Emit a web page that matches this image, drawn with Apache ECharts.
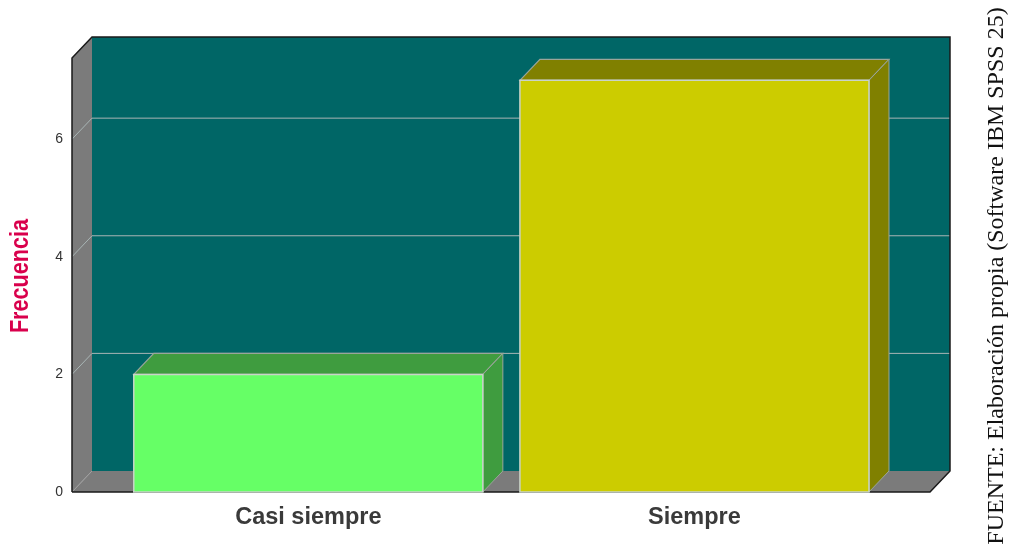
<!DOCTYPE html>
<html>
<head>
<meta charset="utf-8">
<script src="https://cdn.jsdelivr.net/npm/echarts@6/dist/echarts.min.js"></script>
<style>
html,body{margin:0;padding:0;background:#fff;}
#chart{width:1011px;height:547px;}
</style>
</head>
<body>
<div id="chart"></div>
<script>
const categories = ['Casi siempre', 'Siempre'];
const frecuencias = [2, 7];
const yTicks = [0, 2, 4, 6];
const yMax = 7.38;
const yTitle = 'Frecuencia';
const fuente = 'FUENTE: Elaboración propia (Software IBM SPSS 25)';

const faceColors = ['#66ff66', '#cccc00'];
const shadeColors = ['#3f9c3f', '#808000'];
const DX = 20, DY = -21;       // 3D depth offset
const BAR_W = 0.904;           // bar width in x units

const chart = echarts.init(document.getElementById('chart'), null, {renderer: 'canvas'});

function wallsItem(params, api) {
  const cs = params.coordSys;
  const x0 = cs.x, x1 = cs.x + cs.width, yb = cs.y + cs.height, yt = cs.y;
  const children = [];
  children.push({type: 'rect', shape: {x: x0 + DX, y: yt + DY, width: x1 - x0, height: yb - yt},
    style: {fill: '#006666', stroke: null}});
  children.push({type: 'polygon', shape: {points: [[x0, yt], [x0 + DX, yt + DY], [x0 + DX, yb + DY], [x0, yb]]},
    style: {fill: '#7b7b7b'}});
  children.push({type: 'polygon', shape: {points: [[x0, yb], [x0 + DX, yb + DY], [x1 + DX, yb + DY], [x1, yb]]},
    style: {fill: '#7b7b7b'}});
  yTicks.forEach(function (t) {
    if (t === 0) return;
    const y = api.coord([0, t])[1];
    children.push({type: 'polyline', shape: {points: [[x0, y], [x0 + DX, y + DY], [x1 + DX, y + DY]]},
      style: {stroke: '#a9b5b5', lineWidth: 1, fill: null}});
  });
  children.push({type: 'polyline', shape: {points: [[x0, yb], [x0 + DX, yb + DY]]},
    style: {stroke: '#a0a0a0', lineWidth: 1, fill: null}});
  children.push({type: 'polyline', shape: {points: [[x0, yb], [x0, yt], [x0 + DX, yt + DY], [x1 + DX, yt + DY], [x1 + DX, yb + DY], [x1, yb], [x0, yb]]},
    style: {stroke: '#1a1a1a', lineWidth: 1.5, fill: null}});
  return {type: 'group', children: children};
}

function barItem(params, api) {
  const i = api.value(0), v = api.value(1);
  const p0 = api.coord([i - BAR_W / 2, 0]);
  const p1 = api.coord([i + BAR_W / 2, v]);
  const xl = p0[0], xr = p1[0], yb = p0[1], yt = p1[1];
  return {type: 'group', children: [
    {type: 'polygon', shape: {points: [[xl, yt], [xl + DX, yt + DY], [xr + DX, yt + DY], [xr, yt]]},
      style: {fill: shadeColors[i], stroke: '#9aa59a', lineWidth: 1.2}},
    {type: 'polygon', shape: {points: [[xr, yt], [xr + DX, yt + DY], [xr + DX, yb + DY], [xr, yb]]},
      style: {fill: shadeColors[i], stroke: '#9aa59a', lineWidth: 1}},
    {type: 'rect', shape: {x: xl, y: yt, width: xr - xl, height: yb - yt},
      style: {fill: faceColors[i], stroke: '#c9d3c9', lineWidth: 1.5}}
  ]};
}

const option = {
  animation: false,
  backgroundColor: '#ffffff',
  grid: {left: 72, right: 81, top: 58, bottom: 55, containLabel: false, outerBoundsMode: 'none'},
  xAxis: {
    type: 'value', min: -0.612, max: 1.610,
    axisLine: {show: false}, axisTick: {show: false}, splitLine: {show: false},
    axisLabel: {
      customValues: [0, 1],
      formatter: function (v) { return categories[Math.round(v)] || ''; },
      fontFamily: 'Liberation Sans, Arial, sans-serif', fontWeight: 'bold', fontSize: 23.5,
      color: '#3a3a3a', margin: 14
    }
  },
  yAxis: {
    type: 'value', min: 0, max: yMax, interval: 2,
    axisLine: {show: false}, axisTick: {show: false}, splitLine: {show: false},
    axisLabel: {
      customValues: yTicks,
      fontFamily: 'Liberation Sans, Arial, sans-serif', fontSize: 14, color: '#333', margin: 9,
      padding: [9, 0, 0, 0]
    }
  },
  graphic: [{
    type: 'text', x: 21, y: 276, rotation: Math.PI / 2, scaleX: 0.865,
    style: {text: yTitle, fontFamily: 'Liberation Sans, Arial, sans-serif', fontWeight: 'bold', fontSize: 25,
      fill: '#d9004c', align: 'center', verticalAlign: 'middle'}
  }, {
    type: 'text', x: 997, y: 276, rotation: Math.PI / 2,
    style: {text: fuente, fontFamily: 'Liberation Serif, Times New Roman, serif', fontSize: 24,
      fill: '#111', align: 'center', verticalAlign: 'middle'}
  }],
  series: [
    {type: 'custom', renderItem: wallsItem, data: [[0, 0]], silent: true, z: 1},
    {type: 'custom', renderItem: barItem, z: 2,
      data: frecuencias.map(function (v, i) { return [i, v]; })}
  ]
};
chart.setOption(option);
</script>
</body>
</html>
